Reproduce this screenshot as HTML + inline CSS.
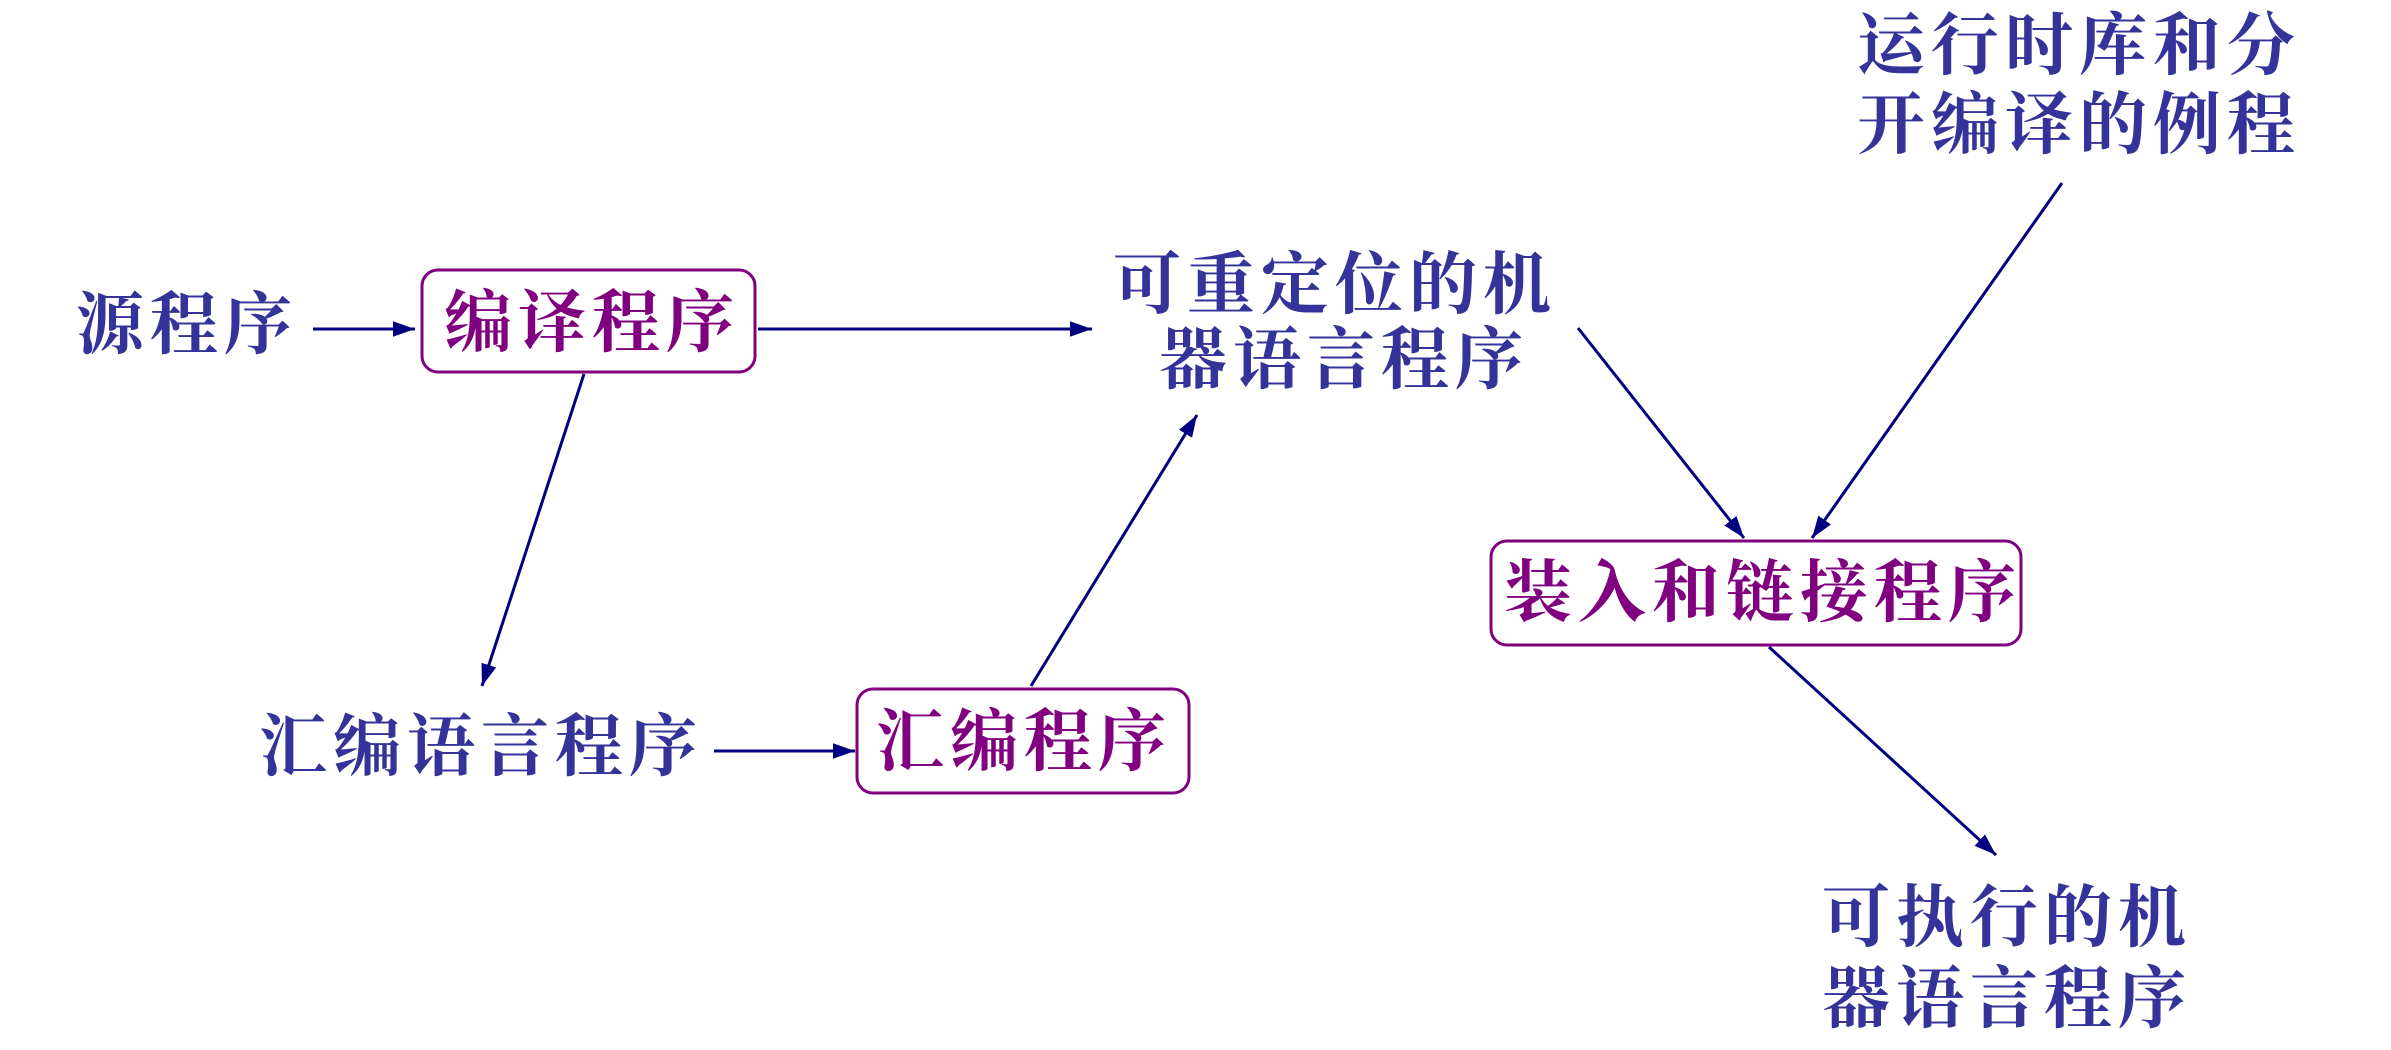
<!DOCTYPE html>
<html><head><meta charset="utf-8"><style>
html,body{margin:0;padding:0;background:#fff;}
svg{display:block}
text{font-family:"Liberation Serif","Noto Serif CJK SC",serif;font-weight:700;font-size:68px;dominant-baseline:central;letter-spacing:6px}
.b{fill:#333399}.p{fill:#800080}
</style></head><body>
<svg width="2391" height="1050" viewBox="0 0 2391 1050" xmlns="http://www.w3.org/2000/svg">
<defs><marker id="a" viewBox="0 0 10 10" refX="10" refY="5" markerWidth="8" markerHeight="8" markerUnits="userSpaceOnUse" orient="auto"><path d="M0,0L10,5L0,10z" fill="#000080" transform="scale(1)"/></marker>
<marker id="m" viewBox="0 0 20 14" refX="20" refY="7" markerWidth="22" markerHeight="16" markerUnits="userSpaceOnUse" orient="auto"><path d="M0,0L20,7L0,14z" fill="#000080"/></marker></defs>
<g stroke="#000080" stroke-width="3" fill="none">
<line x1="313" y1="329" x2="415" y2="329" marker-end="url(#m)"/>
<line x1="758" y1="329" x2="1092" y2="329" marker-end="url(#m)"/>
<line x1="584" y1="374" x2="482" y2="686" marker-end="url(#m)"/>
<line x1="714" y1="751" x2="855" y2="751" marker-end="url(#m)"/>
<line x1="1031" y1="686" x2="1197" y2="415" marker-end="url(#m)"/>
<line x1="1578" y1="328" x2="1744" y2="538" marker-end="url(#m)"/>
<line x1="2062" y1="183" x2="1812" y2="538" marker-end="url(#m)"/>
<line x1="1769" y1="647" x2="1996" y2="855" marker-end="url(#m)"/>
</g>
<g fill="#fff" stroke="#800080" stroke-width="3">
<rect x="422" y="270" width="333" height="102" rx="16"/>
<rect x="857" y="689" width="332" height="104" rx="16"/>
<rect x="1491" y="541" width="530" height="104" rx="16"/>
</g>
<text class="b" x="76" y="325">源程序</text>
<text class="p" x="444" y="323">编译程序</text>
<text class="b" x="1113" y="285">可重定位的机</text>
<text class="b" x="1159" y="360">器语言程序</text>
<text class="b" x="259" y="747">汇编语言程序</text>
<text class="p" x="876" y="742">汇编程序</text>
<text class="b" x="1857" y="46">运行时库和分</text>
<text class="b" x="1857" y="125">开编译的例程</text>
<text class="p" x="1504" y="593">装入和链接程序</text>
<text class="b" x="1822" y="918">可执行的机</text>
<text class="b" x="1822" y="999">器语言程序</text>
</svg>
</body></html>
